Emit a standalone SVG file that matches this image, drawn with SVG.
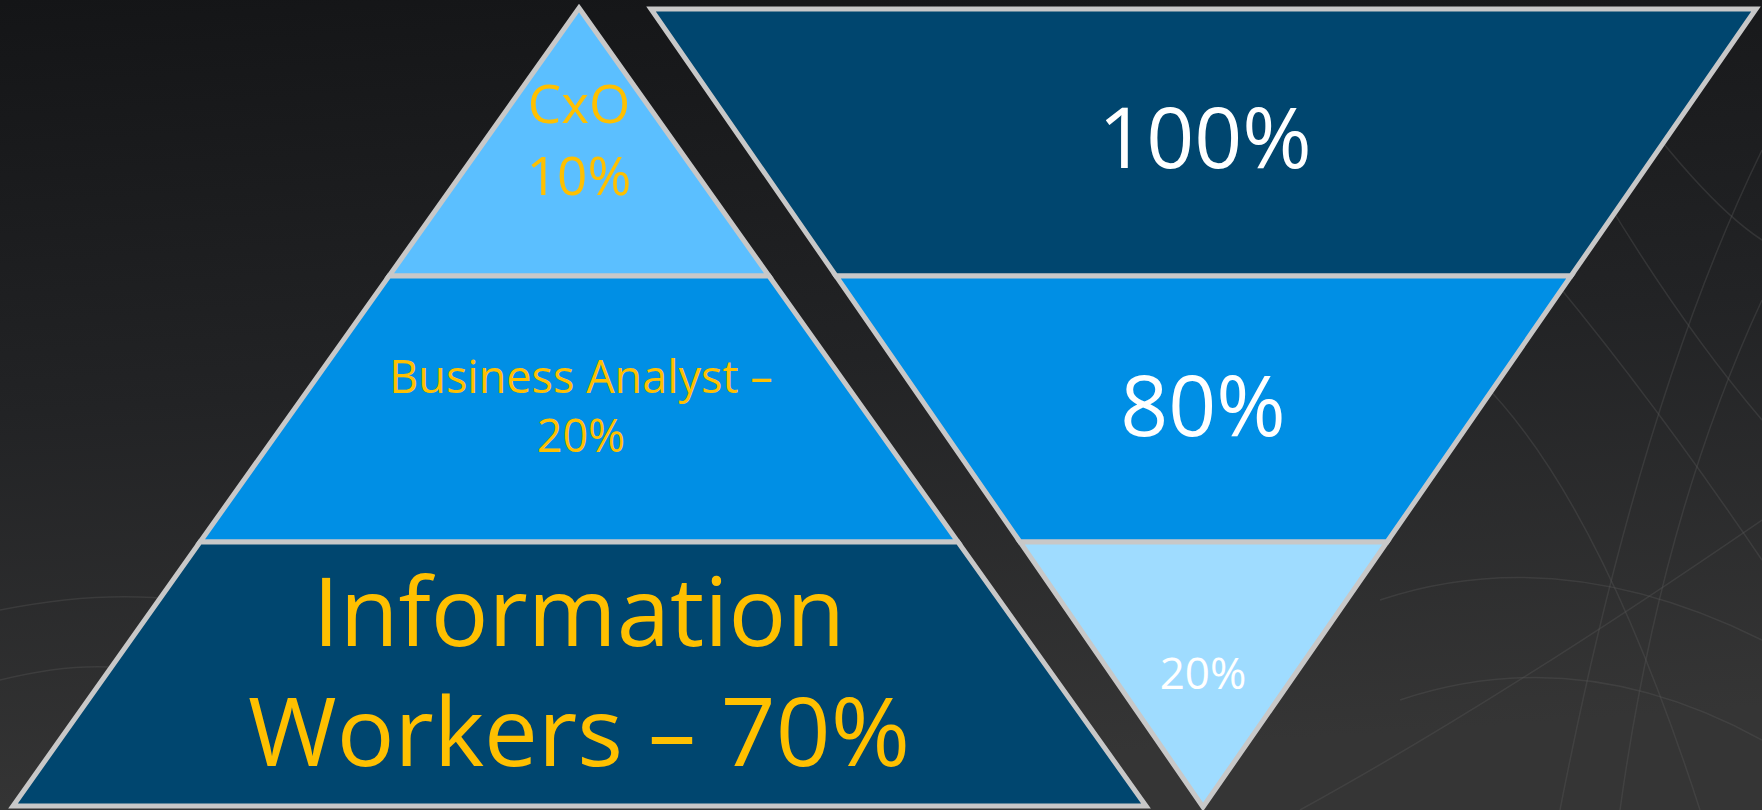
<svg xmlns="http://www.w3.org/2000/svg" width="1762" height="810" viewBox="0 0 1762 810">
  <defs>
    <linearGradient id="bg" x1="0" y1="0" x2="0.15" y2="1">
      <stop offset="0" stop-color="#141517"/>
      <stop offset="0.5" stop-color="#222325"/>
      <stop offset="1" stop-color="#353535"/>
    </linearGradient>
  </defs>
  <style>
    .band { stroke: #C8C8C8; stroke-width: 5; stroke-linejoin: miter; }
    .dark { fill: #00466F; }
    .mid { fill: #008FE5; }
    .light { fill: #5BBFFF; }
    .pale { fill: #9FDCFF; }
    .y { fill: #FFC000; font-family: "Open Sans", "Noto Sans", sans-serif; text-anchor: middle; }
    .w { fill: #FFFFFF; font-family: "Open Sans", "Noto Sans", sans-serif; text-anchor: middle; }
    .wire { fill: none; stroke: #5a5a5a; stroke-width: 1.5; opacity: 0.35; }
  </style>
  <rect width="1762" height="810" fill="url(#bg)"/>
  <g id="background-wireframe">
    <path class="wire" d="M1560 120 Q1660 300 1762 420"/>
    <path class="wire" d="M1520 240 Q1640 380 1762 560"/>
    <path class="wire" d="M1480 380 Q1600 500 1700 810"/>
    <path class="wire" d="M1762 150 Q1640 400 1560 810"/>
    <path class="wire" d="M1762 300 Q1660 520 1620 810"/>
    <path class="wire" d="M1600 60 Q1700 200 1762 240"/>
    <path class="wire" d="M1380 600 Q1560 540 1762 640"/>
    <path class="wire" d="M1400 700 Q1580 640 1762 740"/>
    <path class="wire" d="M1300 810 Q1500 700 1762 520"/>
    <path class="wire" d="M0 610 Q100 590 180 600"/>
    <path class="wire" d="M0 680 Q80 660 140 670"/>
  </g>
  <g id="pyramid">
    <g id="cxo">
      <polygon class="band light" points="579,8 769,276 389,276"/>
      <text class="y" x="579" y="123" font-size="53">CxO</text>
      <text class="y" x="579" y="195" font-size="53">10%</text>
    </g>
    <g id="business-analyst">
      <polygon class="band mid" points="389,276 769,276 958,542 200,542"/>
      <text class="y" x="581" y="393" font-size="45">Business Analyst –</text>
      <text class="y" x="581" y="452" font-size="45">20%</text>
    </g>
    <g id="information-workers">
      <polygon class="band dark" points="200,542 958,542 1146,806 13,806"/>
      <text class="y" x="579" y="646" font-size="96">Information</text>
      <text class="y" x="579" y="766" font-size="96">Workers – 70%</text>
    </g>
  </g>
  <g id="funnel">
    <g id="pct-100">
      <polygon class="band dark" points="651,9 1756,9 1571,276 836,276"/>
      <text class="w" x="1205" y="168" font-size="84">100%</text>
    </g>
    <g id="pct-80">
      <polygon class="band mid" points="836,276 1571,276 1387,542 1020,542"/>
      <text class="w" x="1203" y="436" font-size="84">80%</text>
    </g>
    <g id="pct-20">
      <polygon class="band pale" points="1020,542 1387,542 1203,807"/>
      <text class="w" x="1203" y="689" font-size="44">20%</text>
    </g>
  </g>
  <g id="connectors"/>
</svg>
